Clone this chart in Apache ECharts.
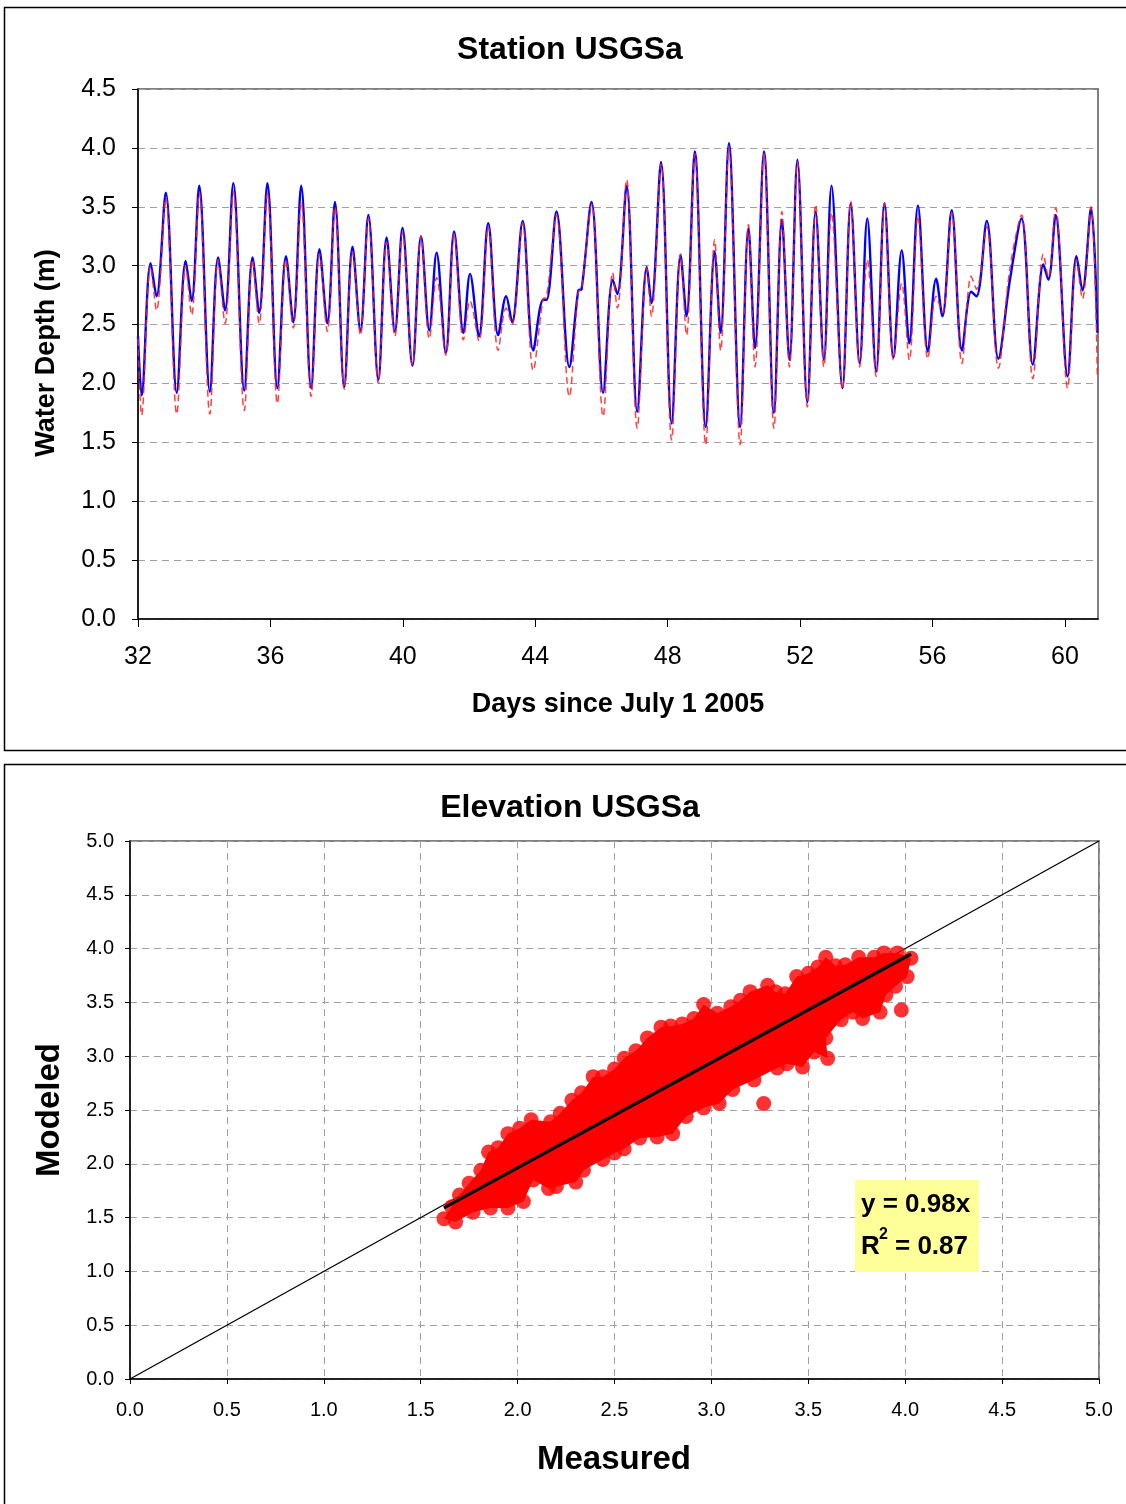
<!DOCTYPE html>
<html><head><meta charset="utf-8">
<script src="https://cdn.jsdelivr.net/npm/echarts@6/dist/echarts.min.js"></script>
<style>html,body{margin:0;padding:0;background:#fff}#c{width:1126px;height:1504px}</style>
</head><body><div id="c"></div><script>
// ---------- Top chart: time series (tidal extrema) ----------
const days = [32.00,32.11,32.38,32.56,32.84,33.17,33.44,33.62,33.85,34.17,34.42,34.63,34.88,35.21,35.46,35.66,35.91,36.21,36.47,36.69,36.93,37.23,37.48,37.72,37.95,38.23,38.48,38.72,38.96,39.26,39.51,39.76,39.99,40.29,40.55,40.80,41.02,41.30,41.55,41.83,42.03,42.30,42.58,42.88,43.12,43.30,43.62,43.94,44.24,44.34,44.64,45.03,45.30,45.40,45.70,46.05,46.34,46.48,46.76,47.08,47.37,47.51,47.80,48.12,48.39,48.57,48.82,49.15,49.42,49.60,49.85,50.19,50.44,50.64,50.91,51.21,51.45,51.68,51.92,52.22,52.47,52.72,52.95,53.28,53.53,53.80,54.03,54.30,54.55,54.82,55.07,55.30,55.56,55.86,56.11,56.30,56.58,56.89,57.17,57.33,57.64,57.99,58.34,58.69,59.03,59.35,59.50,59.72,60.08,60.35,60.53,60.79,60.98];
const measuredDepth = [2.40,1.90,3.02,2.74,3.62,1.92,3.04,2.70,3.68,1.93,3.07,2.62,3.70,1.94,3.07,2.60,3.70,1.96,3.08,2.52,3.68,1.96,3.14,2.51,3.54,1.97,3.16,2.45,3.43,2.03,3.24,2.44,3.32,2.15,3.25,2.45,3.11,2.26,3.29,2.43,2.93,2.40,3.36,2.41,2.74,2.52,3.38,2.28,2.71,2.71,3.46,2.14,2.79,2.80,3.54,1.92,2.88,2.76,3.68,1.76,2.99,2.68,3.88,1.66,3.09,2.57,3.97,1.63,3.12,2.43,4.04,1.63,3.32,2.30,3.97,1.75,3.39,2.20,3.90,1.84,3.46,2.20,3.68,1.96,3.53,2.17,3.40,2.10,3.53,2.22,3.13,2.34,3.51,2.27,2.89,2.57,3.47,2.28,2.78,2.74,3.38,2.21,2.88,3.40,2.16,3.01,2.88,3.43,2.06,3.08,2.79,3.49,2.43];
const modeledDepth = [2.38,1.73,3.00,2.62,3.58,1.74,3.00,2.58,3.62,1.74,3.05,2.51,3.63,1.77,3.05,2.51,3.62,1.83,3.05,2.47,3.54,1.89,3.10,2.44,3.50,1.95,3.12,2.41,3.40,2.00,3.20,2.40,3.28,2.15,3.25,2.38,2.90,2.24,3.27,2.37,2.70,2.36,3.33,2.28,2.64,2.50,3.36,2.11,2.72,2.73,3.43,1.89,2.78,2.80,3.52,1.72,2.94,2.64,3.73,1.62,2.98,2.57,3.86,1.52,3.10,2.41,3.95,1.48,3.22,2.28,4.00,1.48,3.35,2.14,3.95,1.62,3.46,2.14,3.88,1.80,3.52,2.14,3.45,1.95,3.55,2.14,3.05,2.06,3.53,2.20,2.85,2.20,3.42,2.21,2.74,2.60,3.45,2.17,2.91,2.80,3.33,2.13,2.98,3.43,2.04,3.10,2.90,3.49,1.96,3.05,2.72,3.50,2.06];
const dayTicks = [32,36,40,44,48,52,56,60];

// ---------- Bottom chart: scatter cloud (outline points) ----------
const cloudMeasured = [1.62,1.66,1.70,1.75,1.81,1.85,1.90,1.95,2.01,2.07,2.17,2.22,2.28,2.33,2.39,2.44,2.50,2.55,2.61,2.67,2.74,2.79,2.85,2.91,2.96,3.03,3.10,3.15,3.20,3.29,3.33,3.38,3.44,3.50,3.55,3.59,3.64,3.69,3.76,3.84,3.89,3.96,4.03,
  4.01,3.95,3.90,3.87,3.78,3.73,3.67,3.59,3.60,3.53,3.47,3.39,3.34,3.22,3.11,3.04,2.96,2.87,2.80,2.72,2.63,2.55,2.50,2.44,2.34,2.30,2.20,2.16,2.08,2.03,1.95,1.86,1.77,1.68];
const cloudModeled = [1.49,1.60,1.71,1.82,1.94,2.11,2.15,2.28,2.33,2.41,2.39,2.47,2.59,2.66,2.81,2.81,2.88,2.98,3.05,3.17,3.27,3.28,3.30,3.35,3.48,3.40,3.46,3.52,3.60,3.66,3.60,3.58,3.74,3.77,3.83,3.92,3.84,3.85,3.92,3.92,3.96,3.96,3.91,
  3.74,3.65,3.57,3.41,3.35,3.41,3.34,3.17,2.98,3.04,2.90,2.93,2.89,2.78,2.69,2.56,2.52,2.44,2.28,2.25,2.24,2.14,2.10,2.04,1.94,1.83,1.79,1.77,1.85,1.65,1.59,1.59,1.55,1.46];
const outlierMeasured = [3.98,3.27];
const outlierModeled = [3.43,2.56];
const oneToOneX = [0,5];
const oneToOneY = [0,5];
const trendX = [1.62,4.03];
const trendY = [1.59,3.95];

const FONT = '"Liberation Sans", Arial, sans-serif';
const chart = echarts.init(document.getElementById('c'), null, {renderer:'canvas', width:1126, height:1504});
const fmt1 = v => Number(v).toFixed(1);
const pair = (xs, ys) => xs.map((x,i)=>[x, ys[i]]);

const axisLineBlack = {show:true, onZero:false, lineStyle:{color:'#000', width:1.5}};
const dash = {show:true, lineStyle:{color:'#a0a0a0', width:1, type:[7,5]}};

const option = {
  animation:false,
  backgroundColor:'#fff',
  textStyle:{fontFamily:FONT},
  grid:[
    {left:138, top:89, width:960, height:530, show:true, borderColor:'#808080', borderWidth:2, backgroundColor:'rgba(0,0,0,0)'},
    {left:130, top:841, width:969, height:538, show:true, borderColor:'#808080', borderWidth:2, backgroundColor:'rgba(0,0,0,0)'}
  ],
  xAxis:[
    {gridIndex:0, type:'value', min:32, max:61, interval:4,
     axisLine:axisLineBlack,
     axisTick:{show:true, length:8, lineStyle:{color:'#000', width:1}, customValues:dayTicks},
     axisLabel:{customValues:dayTicks, margin:26, fontSize:25, color:'#000', fontFamily:FONT},
     splitLine:{show:false}},
    {gridIndex:1, type:'value', min:0, max:5, interval:0.5,
     axisLine:axisLineBlack,
     axisTick:{show:true, length:5, lineStyle:{color:'#000'}},
     axisLabel:{formatter:fmt1, margin:21, fontSize:20, color:'#000', fontFamily:FONT},
     splitLine:dash}
  ],
  yAxis:[
    {gridIndex:0, type:'value', min:0, max:4.5, interval:0.5,
     axisLine:axisLineBlack,
     axisTick:{show:true, length:6, lineStyle:{color:'#000'}},
     axisLabel:{formatter:fmt1, margin:22, fontSize:25, color:'#000', fontFamily:FONT},
     splitLine:dash},
    {gridIndex:1, type:'value', min:0, max:5, interval:0.5,
     axisLine:axisLineBlack,
     axisTick:{show:true, length:5, lineStyle:{color:'#000'}},
     axisLabel:{formatter:fmt1, margin:16, fontSize:20, color:'#000', fontFamily:FONT},
     splitLine:dash}
  ],
  series:[
    {type:'line', name:'Measured', xAxisIndex:0, yAxisIndex:0, data:pair(days, measuredDepth),
     smooth:0.35, symbol:'none', lineStyle:{color:'#0000FF', width:2.4}, z:3},
    {type:'line', name:'Modeled', xAxisIndex:0, yAxisIndex:0, data:pair(days, modeledDepth),
     smooth:0.35, symbol:'none', lineStyle:{color:'#FF2020', width:1.5, type:[7,4], opacity:0.85}, z:4},
    {type:'line', name:'1:1', xAxisIndex:1, yAxisIndex:1, data:pair(oneToOneX, oneToOneY),
     symbol:'none', lineStyle:{color:'#000', width:1.3}, z:2},
    {type:'custom', name:'cloud', xAxisIndex:1, yAxisIndex:1, coordinateSystem:'cartesian2d',
     data:[[cloudMeasured[0], cloudModeled[0]]], encode:{x:0, y:1}, clip:false, z:3,
     renderItem:(params, api) => {
       const pts = cloudMeasured.map((x,i)=>api.coord([x, cloudModeled[i]]));
       return {type:'polygon', shape:{points:pts}, style:{fill:'#FF0000'}};
     }},
    {type:'scatter', name:'points', xAxisIndex:1, yAxisIndex:1,
     data:pair(cloudMeasured, cloudModeled).concat(pair(outlierMeasured, outlierModeled)),
     symbol:'circle', symbolSize:15, itemStyle:{color:'#FF0000', borderWidth:0}, z:4},
    {type:'line', name:'trend', xAxisIndex:1, yAxisIndex:1, data:pair(trendX, trendY),
     symbol:'none', lineStyle:{color:'#000', width:3.2}, z:6}
  ],
  graphic:[
    {type:'rect', z:-10, shape:{x:4.5, y:7.5, width:1200, height:743}, style:{fill:'none', stroke:'#000', lineWidth:1.5}},
    {type:'rect', z:-10, shape:{x:4.5, y:764.5, width:1200, height:800}, style:{fill:'none', stroke:'#000', lineWidth:1.5}},
    {type:'text', x:570, y:50, style:{text:'Station USGSa', font:'bold 32px '+FONT, fill:'#000', textAlign:'center', textVerticalAlign:'middle', verticalAlign:'middle'}},
    {type:'text', x:618, y:705, style:{text:'Days since July 1 2005', font:'bold 27px '+FONT, fill:'#000', textAlign:'center', textVerticalAlign:'middle', verticalAlign:'middle'}},
    {type:'text', x:47, y:353, rotation:Math.PI/2, style:{text:'Water Depth (m)', font:'bold 27px '+FONT, fill:'#000', textAlign:'center', textVerticalAlign:'middle', verticalAlign:'middle'}},
    {type:'text', x:570, y:808, style:{text:'Elevation USGSa', font:'bold 32px '+FONT, fill:'#000', textAlign:'center', textVerticalAlign:'middle', verticalAlign:'middle'}},
    {type:'text', x:614, y:1460, style:{text:'Measured', font:'bold 33px '+FONT, fill:'#000', textAlign:'center', textVerticalAlign:'middle', verticalAlign:'middle'}},
    {type:'text', x:50, y:1110, rotation:Math.PI/2, style:{text:'Modeled', font:'bold 33px '+FONT, fill:'#000', textAlign:'center', textVerticalAlign:'middle', verticalAlign:'middle'}},
    {type:'rect', z:20, shape:{x:855, y:1180, width:124, height:92}, style:{fill:'#FFFF99'}},
    {type:'text', z:21, x:861, y:1205, style:{text:'y = 0.98x', font:'bold 26px '+FONT, fill:'#000', textAlign:'left', textVerticalAlign:'middle', verticalAlign:'middle'}},
    {type:'text', z:21, x:861, y:1247, style:{text:'R', font:'bold 26px '+FONT, fill:'#000', textAlign:'left', textVerticalAlign:'middle', verticalAlign:'middle'}},
    {type:'text', z:21, x:879, y:1235, style:{text:'2', font:'bold 16px '+FONT, fill:'#000', textAlign:'left', textVerticalAlign:'middle', verticalAlign:'middle'}},
    {type:'text', z:21, x:895, y:1247, style:{text:'= 0.87', font:'bold 26px '+FONT, fill:'#000', textAlign:'left', textVerticalAlign:'middle', verticalAlign:'middle'}}
  ]
};
chart.setOption(option);
</script></body></html>
